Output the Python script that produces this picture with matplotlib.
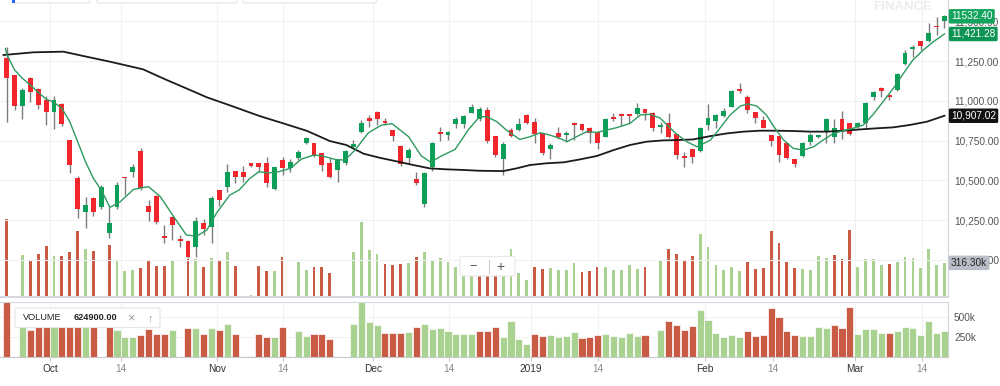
import matplotlib.pyplot as plt
from matplotlib.patches import Rectangle, FancyBboxPatch
from matplotlib.lines import Line2D
from matplotlib.transforms import blended_transform_factory

plt.rcParams['font.family'] = ['Liberation Sans', 'DejaVu Sans']

# dados: um candle por pregao (indice 0..119)
abertura = [11272, 11163, 10968, 11146, 11075, 11006, 10928, 10983, 10752, 10513,
            10304, 10388, 10331, 10167, 10331, 10524, 10551, 10685, 10339, 10402,
            10150, 10272, 10132, 10119, 10079, 10234, 10209, 10440, 10461, 10559,
            10551, 10612, 10612, 10608, 10444, 10629, 10580, 10639, 10733, 10737,
            10670, 10612, 10566, 10612, 10708, 10807, 10893, 10933, 10876, 10817,
            10717, 10643, 10509, 10352, 10587, 10807, 10786, 10855, 10853, 10926,
            10884, 10943, 10779, 10633, 10817, 10817, 10912, 10865, 10796, 10695,
            10800, 10786, 10859, 10855, 10832, 10807, 10775, 10901, 10920, 10916,
            10916, 10947, 10926, 10834, 10859, 10792, 10654, 10698, 10687, 10849,
            10874, 10907, 10960, 11073, 11023, 10928, 10880, 10786, 10779, 10737,
            10633, 10654, 10744, 10775, 10807, 10775, 10884, 10863, 10838, 10859,
            11027, 11079, 11037, 11069, 11232, 11325, 11379, 11379, 11474, 11505]

maxima = [11341, 11165, 11079, 11150, 11084, 11031, 11031, 10987, 10752, 10530,
          10394, 10398, 10471, 10331, 10488, 10524, 10601, 10706, 10377, 10408,
          10220, 10276, 10157, 10125, 10272, 10255, 10400, 10440, 10603, 10559,
          10593, 10612, 10612, 10645, 10587, 10645, 10633, 10691, 10775, 10737,
          10670, 10639, 10633, 10691, 10754, 10880, 10912, 10937, 10891, 10817,
          10723, 10702, 10555, 10551, 10744, 10838, 10811, 10901, 10912, 10981,
          10960, 10960, 10779, 10744, 10828, 10891, 10916, 10891, 10800, 10733,
          10834, 10811, 10865, 10855, 10838, 10807, 10891, 10922, 10926, 10916,
          10985, 10947, 10932, 10870, 10922, 10792, 10681, 10698, 10838, 10981,
          10916, 10953, 11069, 11111, 11037, 10932, 10905, 10786, 10779, 10737,
          10633, 10744, 10800, 10786, 10891, 10886, 10937, 10863, 10870, 10995,
          11065, 11086, 11044, 11178, 11320, 11352, 11379, 11488, 11530, 11541]

minima = [10865, 10943, 10886, 10991, 10949, 10849, 10823, 10845, 10549, 10262,
          10199, 10278, 10320, 10136, 10320, 10408, 10524, 10440, 10247, 10224,
          10104, 10125, 10083, 10010, 10020, 10157, 10104, 10339, 10429, 10482,
          10492, 10587, 10555, 10461, 10440, 10534, 10555, 10628, 10729, 10649,
          10561, 10513, 10492, 10597, 10708, 10796, 10838, 10849, 10849, 10750,
          10591, 10603, 10471, 10335, 10561, 10750, 10754, 10828, 10828, 10922,
          10876, 10737, 10649, 10534, 10771, 10813, 10855, 10733, 10660, 10633,
          10758, 10744, 10754, 10811, 10737, 10695, 10771, 10876, 10842, 10859,
          10912, 10880, 10813, 10796, 10765, 10633, 10586, 10612, 10681, 10817,
          10828, 10901, 10960, 11048, 10926, 10863, 10828, 10719, 10618, 10633,
          10587, 10649, 10723, 10765, 10733, 10733, 10758, 10786, 10828, 10828,
          11006, 11027, 11006, 11065, 11226, 11278, 11320, 11373, 11415, 11457]

fechamento = [11147, 10968, 11067, 11054, 10975, 10928, 11004, 10857, 10597, 10318,
              10346, 10304, 10461, 10230, 10469, 10513, 10582, 10450, 10299, 10237,
              10140, 10220, 10121, 10020, 10247, 10192, 10388, 10377, 10551, 10519,
              10524, 10591, 10587, 10482, 10582, 10576, 10614, 10681, 10765, 10656,
              10597, 10524, 10628, 10687, 10729, 10859, 10876, 10884, 10863, 10779,
              10601, 10691, 10486, 10545, 10733, 10790, 10802, 10886, 10907, 10964,
              10949, 10750, 10660, 10729, 10779, 10855, 10859, 10792, 10670, 10723,
              10771, 10800, 10851, 10817, 10796, 10737, 10886, 10888, 10905, 10905,
              10958, 10926, 10832, 10849, 10775, 10660, 10639, 10649, 10832, 10891,
              10912, 10937, 11065, 11060, 10943, 10891, 10828, 10748, 10660, 10639,
              10601, 10733, 10786, 10786, 10884, 10832, 10813, 10790, 10859, 10989,
              11054, 11063, 11027, 11170, 11299, 11341, 11346, 11429, 11463, 11532.4]

# volume em milhares
volume = [722, 0, 392, 330, 401, 472, 376, 376, 414, 608,
          447, 423, 0, 478, 333, 241, 247, 268, 346, 284,
          290, 339, 0, 355, 355, 278, 361, 333, 414, 290,
          0, 15, 284, 241, 241, 367, 0, 327, 253, 281,
          278, 225, 0, 0, 414, 694, 438, 398, 302, 296,
          302, 312, 367, 414, 346, 361, 324, 281, 284, 284,
          325, 316, 367, 250, 447, 225, 160, 281, 259, 272,
          247, 253, 312, 235, 241, 275, 281, 253, 247, 296,
          262, 275, 0, 339, 441, 401, 333, 383, 586, 463,
          296, 247, 275, 241, 327, 262, 268, 611, 500, 321,
          268, 262, 253, 376, 361, 392, 355, 624.9, 281, 349,
          349, 296, 302, 327, 367, 361, 268, 441, 296, 316.3]

# u = subiu, d = caiu (cor da barra de volume)
direcao_volume = ("d-uddduddd" "ud-duuuddd" "du-dududud" "-uddud-uud"
                  "dd--uuuudd" "duduuuuuuu" "ddduuuuddu" "uuuddduuuu"
                  "ud-udddduu" "uuuudddddd" "duuuuddduu" "uuduuuuuuu")

# medias moveis (posicao do pregao, valor)
media_curta_x = [-0.15, 0, 1, 2, 3, 4, 5, 6, 7, 8, 9, 10, 11, 12, 13.1, 14.4,
                 16.1, 18, 19.5, 21.2, 22.8, 24.1, 25.4, 26.6, 28.3, 29.5, 30.8,
                 32, 33.2, 34.5, 36, 37.4, 39, 40, 41.7, 42.9, 44.2, 45.9, 47.6,
                 48.9, 51, 52.6, 53.8, 55.2, 56.9, 58.6, 60, 60.9, 62.2, 63.4,
                 65.1, 66.4, 67.7, 68.9, 70.2, 71.1, 72.3, 73.6, 74.9, 76.1, 77.4,
                 79.1, 80.4, 81.6, 82.9, 84.9, 86.3, 87.6, 89.3, 90.5, 91.8, 93.1,
                 94.1, 95.2, 96.4, 97.5, 98.6, 99.8, 101.1, 102.4, 103.6, 104.9,
                 106.2, 107.4, 108.7, 109.9, 111.2, 112.5, 113.8, 115, 116.3,
                 117.6, 119]
media_curta_y = [11330, 11293, 11195, 11142, 11100, 11054, 11012, 10991, 10954,
                 10870, 10744, 10618, 10513, 10440, 10331, 10366, 10444, 10461,
                 10398, 10272, 10157, 10150, 10188, 10293, 10408, 10440, 10510,
                 10555, 10547, 10555, 10576, 10635, 10660, 10655, 10632, 10628,
                 10691, 10800, 10849, 10857, 10775, 10655, 10615, 10655, 10695,
                 10820, 10901, 10901, 10870, 10817, 10758, 10775, 10800, 10786,
                 10765, 10744, 10775, 10807, 10802, 10817, 10832, 10859, 10912,
                 10916, 10893, 10796, 10744, 10712, 10754, 10828, 10912, 10968,
                 10981, 10968, 10912, 10828, 10754, 10702, 10691, 10712, 10754,
                 10796, 10813, 10828, 10849, 10912, 10995, 11079, 11174, 11258,
                 11320, 11373, 11421.28]

media_longa_x = [-0.4, 3.4, 7.2, 9.7, 13.1, 17.3, 20.3, 22.8, 25.4, 28.8, 32.1,
                 35.1, 38.1, 41, 43.1, 45.3, 47.4, 49.5, 51.6, 53.7, 55.8, 57.9,
                 60, 63, 64.7, 66.4, 68.5, 70.7, 72.8, 74.9, 77, 79.1, 81.2, 83.3,
                 85, 87.1, 89.3, 91.4, 93.5, 95.6, 97.7, 99.8, 102, 104.1, 106.2,
                 108.3, 110.4, 112.5, 114.6, 116.8, 119]
media_longa_y = [11289, 11306, 11310, 11283, 11247, 11199, 11132, 11079, 11023,
                 10964, 10905, 10859, 10812, 10748, 10723, 10668, 10642, 10620,
                 10597, 10576, 10570, 10566, 10561, 10559, 10576, 10597, 10608,
                 10614, 10633, 10654, 10691, 10723, 10744, 10752, 10754, 10758,
                 10779, 10796, 10807, 10813, 10813, 10811, 10807, 10807, 10813,
                 10821, 10828, 10834, 10849, 10870, 10907.02]

# eixo x: posicao dos rotulos de data
ticks_pos = [5.5, 14.5, 26.65, 35.1, 46.5, 56.1, 66.5, 75.0, 88.6, 97.2, 107.6, 116.1]
ticks_txt = ["Oct", "14", "Nov", "14", "Dec", "14", "2019", "14", "Feb", "14", "Mar", "14"]
precos_eixo = [10000, 10250, 10500, 10750, 11000, 11250, 11500]

VERDE = '#0c9f57'
VERMELHO = '#f0262c'
VOL_VERDE = '#a9d18f'
VOL_VERMELHO = '#c95a43'


def caixa_fig(fig, x0, y0, x1, y1, ec='#e3e3e3'):
    # caixa branca em pixels da figura (y medido de cima)
    p = FancyBboxPatch((x0 / 1000, 1 - y1 / 386), (x1 - x0) / 1000, (y1 - y0) / 386,
                       boxstyle='round,pad=0,rounding_size=0.004',
                       transform=fig.transFigure, fc='white', ec=ec, lw=0.8,
                       zorder=20)
    fig.add_artist(p)


def plota_grafico():
    n = len(fechamento)
    x = list(range(n))

    fig = plt.figure(figsize=(10, 3.86), dpi=100)
    H = 386.0
    ax = fig.add_axes([0, 1 - 297 / H, 0.948, 297 / H])
    axv = ax.twinx()
    axb = fig.add_axes([0, 1 - 356.7 / H, 0.948, 54.7 / H])

    ax.set_zorder(2)
    axv.set_zorder(1)
    ax.patch.set_visible(False)

    # volume atras dos candles
    cores_vol = [VOL_VERDE if s == 'u' else VOL_VERMELHO for s in direcao_volume]
    vol = [v * 1000 for v in volume]
    axv.bar(x, vol, width=0.36, color=cores_vol)
    axv.set_ylim(0, 2.75e6)
    axv.set_axis_off()

    # candles
    cores = [VERDE if c >= o else VERMELHO for o, c in zip(abertura, fechamento)]
    bases = [min(o, c) for o, c in zip(abertura, fechamento)]
    alturas = [max(abs(c - o), 8) for o, c in zip(abertura, fechamento)]
    ax.vlines(x, minima, maxima, color='#7d7d7d', lw=1.0, zorder=2)
    ax.bar(x, alturas, bottom=bases, width=0.62, color=cores, zorder=3)

    # medias
    ax.plot(media_longa_x, media_longa_y, color='#1b1b1b', lw=1.3, zorder=4)
    ax.plot(media_curta_x, media_curta_y, color='#2e9a5f', lw=1.0, zorder=5)

    ax.set_xlim(-0.85, 119.45)
    ax.set_ylim(9767, 11635)
    ax.set_yticks(precos_eixo)
    ax.set_yticklabels([f"{p:,.2f}" for p in precos_eixo])
    ax.yaxis.tick_right()
    ax.tick_params(axis='y', length=0, pad=4.3, labelsize=7.3, labelcolor='#555555')
    ax.set_xticks(ticks_pos)
    ax.tick_params(axis='x', length=0, labelbottom=False)
    ax.grid(True, color='#f1f1f1', lw=0.8)
    ax.set_axisbelow(True)
    for s in ['top', 'left']:
        ax.spines[s].set_visible(False)
    ax.spines['right'].set_color('#cfd3d8')
    ax.spines['bottom'].set_color('#d5d9df')
    ax.spines['bottom'].set_linewidth(1.5)

    # rotulos de preco
    trans = blended_transform_factory(ax.transAxes, ax.transData)
    for valor, txt, cor in [(11532.4, '11532.40', '#13a35d'),
                            (11421.28, '11,421.28', '#0d9455'),
                            (10907.02, '10,907.02', '#111111')]:
        ax.text(1.0032, valor, txt, transform=trans, color='white', fontsize=7.3,
                va='center', ha='left', zorder=10,
                bbox=dict(boxstyle='round,pad=0.22,rounding_size=0.15', fc=cor, ec='none'))
    trans_v = blended_transform_factory(ax.transAxes, axv.transData)
    ax.text(1.0032, vol[-1], '316.30k', transform=trans_v, color='#222222', fontsize=7.3,
            va='center', ha='left', zorder=10,
            bbox=dict(boxstyle='round,pad=0.22,rounding_size=0.15', fc='#b9bec6', ec='none'))

    # painel de volume de baixo
    axb.bar(x, vol, width=0.9, color=cores_vol, edgecolor='white', linewidth=0.5)
    axb.set_xlim(-0.85, 119.45)
    axb.set_ylim(0, 684e3)
    axb.set_yticks([250e3, 500e3])
    axb.set_yticklabels(['250k', '500k'])
    axb.yaxis.tick_right()
    axb.tick_params(axis='y', length=0, pad=4.3, labelsize=7.3, labelcolor='#555555')
    axb.set_xticks(ticks_pos)
    axb.set_xticklabels(ticks_txt)
    axb.tick_params(axis='x', length=3, color='#c8c8c8', labelsize=7.3, pad=2.5)
    for lbl, t in zip(axb.get_xticklabels(), ticks_txt):
        lbl.set_color('#8a8a8a' if t == '14' else '#333333')
    axb.grid(True, color='#f1f1f1', lw=0.8)
    axb.set_axisbelow(True)
    axb.spines['left'].set_visible(False)
    axb.spines['top'].set_color('#d5d9df')
    axb.spines['right'].set_color('#cfd3d8')
    axb.spines['bottom'].set_color('#c8c8c8')

    # marca d'agua e controles
    fig.text(0.903, 1 - 7.5 / H, 'FINANCE', ha='center', va='center', fontsize=9.5,
             fontweight='bold', color='#ededed')
    for x0, x1 in [(13, 90), (97, 237), (243, 377)]:
        caixa_fig(fig, x0, -6, x1, 3)
    fig.add_artist(Rectangle((12 / 1000, 1 - 3 / H), 3 / 1000, 3 / H, fc='#2962ff',
                             ec='none', transform=fig.transFigure, zorder=21))

    caixa_fig(fig, 460, 256.5, 515, 276, ec='#e8e8e8')
    fig.text(473.3 / 1000, 1 - 266.5 / H, '\u2212', ha='center', va='center',
             fontsize=9, color='#555555', zorder=21)
    fig.text(500.7 / 1000, 1 - 266.5 / H, '+', ha='center', va='center',
             fontsize=10, color='#555555', zorder=21)
    fig.add_artist(Line2D([489 / 1000, 489 / 1000], [1 - 260 / H, 1 - 273 / H],
                          color='#cccccc', lw=0.8, transform=fig.transFigure, zorder=21))

    # legenda do volume
    caixa_fig(fig, 15, 308, 160, 327.5, ec='#e5e5e5')
    yl = 1 - 318 / H
    fig.text(23.3 / 1000, yl, 'VOLUME', ha='left', va='center', fontsize=6.6,
             color='#222222', zorder=21)
    fig.text(73.3 / 1000, yl, '624900.00', ha='left', va='center', fontsize=6.6,
             fontweight='bold', color='#222222', zorder=21)
    fig.text(131 / 1000, yl, '\u00d7', ha='center', va='center', fontsize=9,
             color='#999999', zorder=21)
    fig.text(150 / 1000, yl, '\u2191', ha='center', va='center', fontsize=8,
             color='#999999', zorder=21)

    fig.savefig('out.png', dpi=100)


if __name__ == '__main__':
    plota_grafico()
